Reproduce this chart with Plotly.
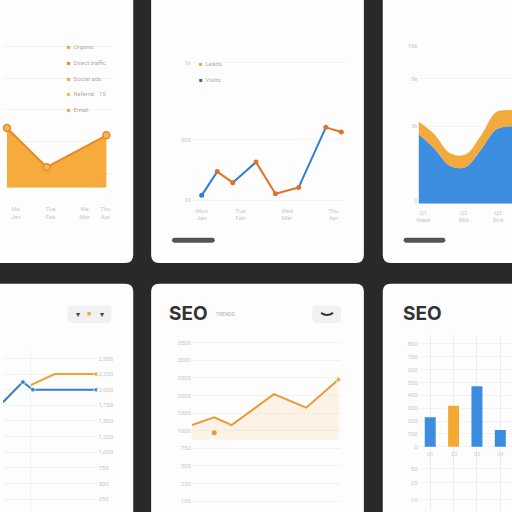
import plotly.graph_objects as go

W = H = 512
BLUE = "#3a8de0"
ORANGE = "#f4a935"

# ---------------- data ----------------
# Card A (area)
a_x = [2, 6, 12]
a_y = [58, 20, 51]
a_grid = [14, 45, 76, 106, 137]
a_xticks = [2.9, 6.4, 9.8, 11.9]
a_xlabels = ["Mo<br>Jan", "Tue<br>Feb", "We<br>Mar", "Thu<br>Apr"]
a_legend = ["Organic", "Direct traffic", "Social ads", "Referral   15", "Email"]
a_legend_colors = ["#f0a33a", "#e8823a", "#f0a33a", "#f3b84a", "#f0a33a"]

# Card B (two-colour line)
b_x = [1, 5, 9, 15, 20, 26, 33, 37]
b_y = [4, 19, 12, 25, 5, 9, 47, 44]
b_seg_colors = ["#2f7fcf", "#e2722c", "#2f7fcf", "#e2722c", "#e2722c", "#2f7fcf", "#e2722c"]
b_marker_colors = ["#2f7fcf", "#e2722c", "#e2722c", "#e2722c", "#e2722c", "#e2722c", "#e2722c", "#e2722c"]
b_xticks = [1, 11, 23, 35]
b_xlabels = ["Mon<br>Jan", "Tue<br>Feb", "Wed<br>Mar", "Thu<br>Apr"]
b_yticks = [1, 39, 88]
b_ylabels = ["10", "500", "1k"]
b_legend = ["Leads", "Visits"]
b_legend_colors = ["#f4a935", "#2e6e5a"]

# Card C (stacked smooth area)
c_x = [0, 1, 2, 3, 4, 5, 6]
c_blue = [44, 35, 24, 23, 34, 47, 49]
c_orange = [8, 9, 8, 8, 9, 11, 10]
c_yticks = [2, 49, 79, 100]
c_ylabels = ["0", "5k", "8k", "10k"]
c_xticks = [0.3, 2.9, 5.1]
c_xlabels = ["Q1<br>Week", "Q2<br>Mid", "Q3<br>End"]

# Card D (lines, right axis)
d_blue_x = [0, 10, 15, 47]
d_blue_y = [72, 85, 80, 80]
d_orange_x = [14, 26, 47]
d_orange_y = [83, 90, 90]
d_yticks = [100, 90, 80, 70, 60, 50, 40, 30, 20, 10]
d_ylabels = ["2,500", "2,250", "2,000", "1,750", "1,500",
             "1,250", "1,000", "750", "500", "250"]

# Card E (line with light area)
e_x = [0, 4.5, 8, 16.5, 23, 29.5]
e_y = [8.2, 12.6, 8.2, 25.8, 18.1, 34.1]
e_dot_x = [4.5]
e_dot_y = [3.8]
e_yticks = [55, 45, 35, 25, 15, 5, -5, -15, -25, -35]
e_ylabels = ["3500", "3000", "2500", "2000", "1500",
             "1000", "750", "500", "250", "100"]

# Card F (bars)
f_cats = ["Q1", "Q2", "Q3", "Q4"]
f_vals = [23, 32, 47, 13]
f_colors = [BLUE, ORANGE, BLUE, BLUE]
f_yticks = [80, 70, 60, 50, 40, 30, 20, 10, 0, -17, -28, -41]
f_ylabels = ["800", "700", "600", "500", "400", "300", "200", "100",
             "0", "50", "25", "10"]


# ---------------- helpers ----------------
def px(x):
    return x / W


def py(y):
    return 1 - y / H


def rrect(x0, y0, x1, y1, r, fill):
    pts = [
        ("M", [(x0 + r, y0)]),
        ("L", [(x1 - r, y0)]),
        ("Q", [(x1, y0), (x1, y0 + r)]),
        ("L", [(x1, y1 - r)]),
        ("Q", [(x1, y1), (x1 - r, y1)]),
        ("L", [(x0 + r, y1)]),
        ("Q", [(x0, y1), (x0, y1 - r)]),
        ("L", [(x0, y0 + r)]),
        ("Q", [(x0, y0), (x0 + r, y0)]),
    ]
    path = " ".join(
        c + " " + " ".join(f"{px(a):.5f},{py(b):.5f}" for a, b in p) for c, p in pts
    ) + " Z"
    return dict(type="path", xref="paper", yref="paper", path=path,
                fillcolor=fill, line=dict(width=0), layer="below")


TICKFONT = dict(family="Roboto", size=6, color="#c8c8c8")
GRID = "#f2f2f2"


def axis_common(**kw):
    d = dict(showline=False, zeroline=False, ticks="", tickfont=TICKFONT,
             gridcolor=GRID, fixedrange=True)
    d.update(kw)
    return d


annotations = []


def ann(x, y, text, size=6, color="#c8c8c8", xanchor="left", family="Roboto", bold=False):
    if bold:
        text = "<b>" + text + "</b>"
    annotations.append(dict(x=px(x), y=py(y), xref="paper", yref="paper", text=text,
                            showarrow=False, xanchor=xanchor, yanchor="middle",
                            font=dict(size=size, color=color, family=family)))


fig = go.Figure()

# ---- Card A ----
fig.add_trace(go.Scatter(x=a_x, y=a_y, xaxis="x", yaxis="y", mode="lines+markers",
                         fill="tozeroy", fillcolor="#f6ab3c",
                         line=dict(color="#e88a2a", width=2),
                         marker=dict(size=7, color="#f8b550", line=dict(color="#e88a2a", width=1.5))))

# ---- Card B ----
for i in range(len(b_x) - 1):
    fig.add_trace(go.Scatter(x=b_x[i:i + 2], y=b_y[i:i + 2], xaxis="x2", yaxis="y2",
                             mode="lines", line=dict(color=b_seg_colors[i], width=2)))
fig.add_trace(go.Scatter(x=b_x, y=b_y, xaxis="x2", yaxis="y2", mode="markers",
                         marker=dict(size=5, color=b_marker_colors)))

# ---- Card C ----
fig.add_trace(go.Scatter(x=c_x, y=c_blue, xaxis="x3", yaxis="y3", stackgroup="c",
                         mode="lines", line=dict(width=0, shape="spline", color=BLUE),
                         fillcolor="#3d8de0"))
fig.add_trace(go.Scatter(x=c_x, y=c_orange, xaxis="x3", yaxis="y3", stackgroup="c",
                         mode="lines", line=dict(width=0, shape="spline", color=ORANGE),
                         fillcolor="#f3aa3c"))

# ---- Card D ----
fig.add_trace(go.Scatter(x=d_orange_x, y=d_orange_y, xaxis="x4", yaxis="y4", mode="lines+markers",
                         line=dict(color="#eda233", width=2),
                         marker=dict(size=[0, 0, 5], color="#eda233")))
fig.add_trace(go.Scatter(x=d_blue_x, y=d_blue_y, xaxis="x4", yaxis="y4", mode="lines+markers",
                         line=dict(color="#2f7fcf", width=2),
                         marker=dict(size=[0, 5, 5, 5], color="#2f7fcf")))

# ---- Card E ----
fig.add_trace(go.Scatter(x=e_x, y=e_y, xaxis="x5", yaxis="y5", mode="lines+markers",
                         fill="tozeroy", fillcolor="rgba(250,215,165,0.25)",
                         line=dict(color="#ec9a35", width=2),
                         marker=dict(size=[0, 0, 0, 0, 0, 5], color="#ec9a35")))
fig.add_trace(go.Scatter(x=e_dot_x, y=e_dot_y, xaxis="x5", yaxis="y5", mode="markers",
                         marker=dict(size=5, color="#ec9a35")))

# ---- Card F ----
fig.add_trace(go.Bar(x=f_cats, y=f_vals, xaxis="x6", yaxis="y6", width=0.47,
                     marker=dict(color=f_colors, line=dict(width=0))))

# ---------------- layout ----------------
shapes = [
    rrect(-12, -12, 131, 262, 8, "#fdfdfd"),
    rrect(149, -12, 363, 262, 8, "#fdfdfd"),
    rrect(382, -12, 524, 262, 8, "#fdfdfd"),
    rrect(-12, 283, 131, 524, 8, "#fdfdfd"),
    rrect(149, 283, 363, 524, 8, "#fdfdfd"),
    rrect(382, 283, 524, 524, 8, "#fdfdfd"),
    # scrollbars
    rrect(170, 236.5, 213, 241.5, 2.5, "#555555"),
    rrect(403, 236.5, 445, 241.5, 2.5, "#555555"),
    # pills
    rrect(65, 305, 109, 323, 5, "#f1f1f3"),
    rrect(311, 305, 340, 323, 5, "#f1f1f3"),
]
# smile icon inside right pill
shapes.append(dict(type="path", xref="paper", yref="paper",
                   path=f"M {px(320):.5f},{py(312.5):.5f} Q {px(326):.5f},{py(317):.5f} {px(332):.5f},{py(312.5):.5f}",
                   line=dict(color="#333333", width=2), layer="above"))

# legend A
for i, (t, c) in enumerate(zip(a_legend, a_legend_colors)):
    ann(62, 43 + 16 * i, f'<span style="color:{c}">■</span>  {t}', size=6, color="#b8aa9c")
# legend B
for i, (t, c) in enumerate(zip(b_legend, b_legend_colors)):
    ann(195, 60 + 16 * i, f'<span style="color:{c}">■</span>  {t}', size=6, color="#b8aa9c")
# pill D contents
ann(75, 314, "▾", size=8, color="#444444", xanchor="center")
ann(87, 314, '<span style="color:#f4a935">■</span>', size=7, color="#f4a935", xanchor="center")
ann(100, 314, "▾", size=8, color="#444444", xanchor="center")
# titles
ann(187, 313, "SEO", size=19, color="#333333", xanchor="center", family="Inter", bold=True)
ann(212, 314, "TRENDS", size=5, color="#b0b0b0")
ann(422, 313, "SEO", size=19, color="#333333", xanchor="center", family="Inter", bold=True)
# F category labels
for c in f_cats:
    annotations.append(dict(x=c, y=-6, xref="x6", yref="y6", text=c, showarrow=False,
                            font=dict(size=5, color="#c8c8c8", family="Roboto")))

layout = dict(
    width=W, height=H, margin=dict(l=0, r=0, t=0, b=0),
    paper_bgcolor="#292929", plot_bgcolor="rgba(0,0,0,0)",
    showlegend=False, shapes=shapes, annotations=annotations,
    # A
    xaxis=axis_common(domain=[px(0), px(110)], range=[1.6, 12.6], showgrid=False,
                      tickvals=a_xticks, ticktext=a_xlabels, ticklabelstandoff=16, anchor="y"),
    yaxis=axis_common(domain=[py(186), py(40)], range=[0, 140], tickvals=a_grid,
                      showticklabels=False, anchor="x"),
    # B
    xaxis2=axis_common(domain=[px(190), px(345)], range=[-1.54, 38.2], showgrid=False,
                       tickvals=b_xticks, ticktext=b_xlabels, ticklabelstandoff=4, anchor="y2"),
    yaxis2=axis_common(domain=[py(200), py(40)], range=[0, 100], tickvals=b_yticks,
                       ticktext=b_ylabels, gridcolor="#f5f5f5", anchor="x2"),
    # C
    xaxis3=axis_common(domain=[px(418), 1], range=[0, 6], showgrid=False,
                       tickvals=c_xticks, ticktext=c_xlabels, ticklabelstandoff=4, anchor="y3"),
    yaxis3=axis_common(domain=[py(202), py(42)], range=[0, 100], tickvals=c_yticks,
                       ticktext=c_ylabels, gridcolor="#f5f5f5", anchor="x3"),
    # D
    xaxis4=axis_common(domain=[0, px(95)], range=[0, 47.5], showgrid=True,
                       tickvals=[0, 14], showticklabels=False, anchor="y4"),
    yaxis4=axis_common(domain=[py(512), py(350)], range=[3, 105.5], side="right",
                       tickvals=d_yticks, ticktext=d_ylabels, anchor="x4"),
    # E
    xaxis5=axis_common(domain=[px(190), px(340)], range=[0, 30], showgrid=False,
                       showticklabels=False, anchor="y5"),
    yaxis5=axis_common(domain=[py(512), py(335)], range=[-40, 59.3], tickvals=e_yticks,
                       ticktext=e_ylabels, anchor="x5"),
    # F
    xaxis6=axis_common(domain=[px(418), 1], range=[-0.5, 3.5], showgrid=True,
                       gridcolor="#ececec", showticklabels=False, anchor="y6"),
    yaxis6=axis_common(domain=[py(512), py(335)], range=[-49.2, 86.9], tickvals=f_yticks,
                       ticktext=f_ylabels, anchor="x6"),
)
fig.update_layout(**layout)

fig.write_html("out.html",
               config={"displayModeBar": False, "staticPlot": True},
               post_script="document.body.style.margin='0';document.body.style.overflow='hidden';")
